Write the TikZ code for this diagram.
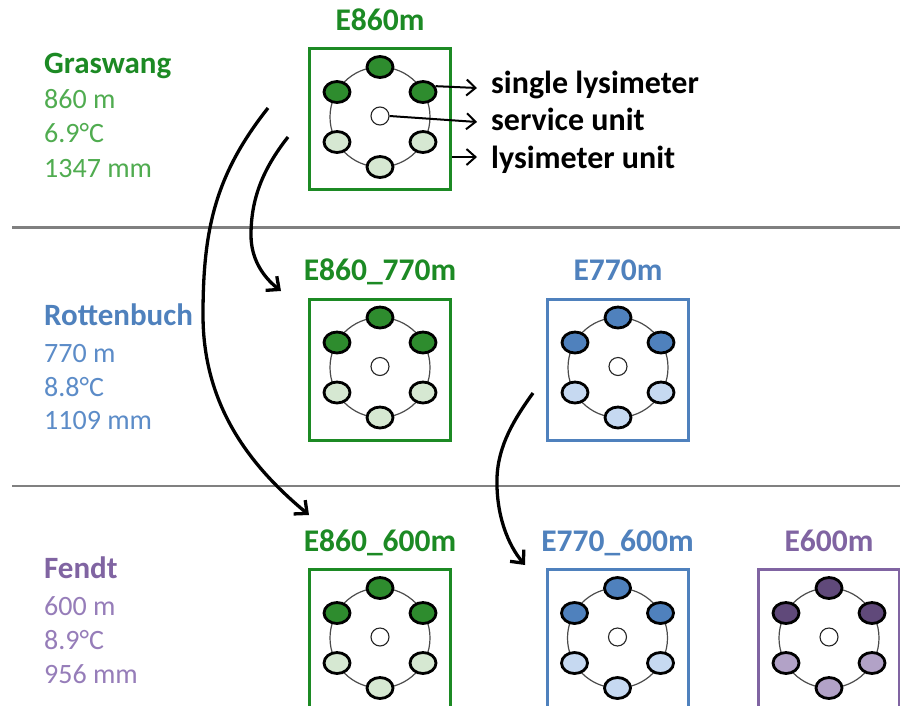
\documentclass[tikz,border=0pt]{standalone}
\usepackage{fontspec}
\setmainfont{Carlito}
\usetikzlibrary{shapes.geometric,arrows.meta,calc}
\definecolor{gframe}{RGB}{28,138,36}
\definecolor{gdata}{RGB}{80,172,80}
\definecolor{gdark}{RGB}{46,140,46}
\definecolor{glight}{RGB}{214,232,210}
\definecolor{bframe}{RGB}{79,129,189}
\definecolor{bdata}{RGB}{92,140,200}
\definecolor{bdark}{RGB}{79,129,189}
\definecolor{blight}{RGB}{198,217,241}
\definecolor{pframe}{RGB}{128,100,162}
\definecolor{pdata}{RGB}{150,125,185}
\definecolor{pdark}{RGB}{96,73,122}
\definecolor{plight}{RGB}{178,162,199}
\tikzset{
  unitframe/.style={rectangle, line width=3pt, minimum width=141pt, minimum height=141pt, inner sep=0pt},
  lys/.style={ellipse, draw=black, line width=2.8pt, minimum width=26pt, minimum height=21pt, inner sep=0pt},
  svc/.style={circle, draw=black!85, line width=1.1pt, fill=white, minimum size=18pt, inner sep=0pt},
  ringline/.style={draw=black!70, line width=1.2pt},
  boxtitle/.style={font=\bfseries\fontsize{31.5}{36}\selectfont, anchor=base, inner sep=0pt},
  sitename/.style={font=\bfseries\fontsize{31}{36}\selectfont, anchor=base west, inner sep=0pt},
  sitedata/.style={font=\fontsize{28}{32}\selectfont, anchor=base west, inner sep=0pt},
  legendtext/.style={font=\bfseries\fontsize{32}{36}\selectfont, anchor=base west, inner sep=0pt},
  bigarrow/.style={line width=3.3pt, -{Straight Barb[length=10pt,width=18pt]}},
  legarrow/.style={line width=2pt, -{Straight Barb[length=9pt,width=16pt]}},
  divider/.style={draw=black!50, line width=2.2pt}
}
\newcommand\lysunit[7]{%
  \node[unitframe, draw=#4] (#1) at (#2,#3) {};
  \node[boxtitle, text=#4] (#1-title) at ($(#1.north)+(0,-17)$) {#7};
  \coordinate (#1-c) at ($(#1.center)+(0,-2)$);
  \draw[ringline] (#1-c) circle[radius=50];
  \node[lys, fill=#5] (#1-t) at ($(#1-c)+(0,-50)$) {};
  \node[lys, fill=#5] (#1-ul) at ($(#1-c)+(-43,-25)$) {};
  \node[lys, fill=#5] (#1-ur) at ($(#1-c)+(43,-25)$) {};
  \node[lys, fill=#6] (#1-ll) at ($(#1-c)+(-43,25)$) {};
  \node[lys, fill=#6] (#1-lr) at ($(#1-c)+(43,25)$) {};
  \node[lys, fill=#6] (#1-b) at ($(#1-c)+(0,50)$) {};
  \node[svc] (#1-s) at ($(#1-c)+(0,-1)$) {};
}
\begin{document}
\begin{tikzpicture}[x=1pt,y=-1pt]
\useasboundingbox (0,0) rectangle (900,705);
\clip (0,0) rectangle (900,705);
\fill[white] (0,0) rectangle (900,705);
% dividers
\draw[divider] (12,227.5) -- (900,227.5);
\draw[divider] (12,486) -- (900,486);
% site labels
\node[sitename, text=gframe] (gras) at (44,73) {Graswang};
\node[sitedata, text=gdata] (gras1) at (44,108) {860 m};
\node[sitedata, text=gdata] (gras2) at (44,142) {6.9°C};
\node[sitedata, text=gdata] (gras3) at (44,177) {1347 mm};
\node[sitename, text=bframe] (rott) at (44,325) {Rottenbuch};
\node[sitedata, text=bdata] (rott1) at (44,362) {770 m};
\node[sitedata, text=bdata] (rott2) at (44,396) {8.8°C};
\node[sitedata, text=bdata] (rott3) at (44,429) {1109 mm};
\node[sitename, text=pframe] (fend) at (44,578) {Fendt};
\node[sitedata, text=pdata] (fend1) at (44,615) {600 m};
\node[sitedata, text=pdata] (fend2) at (44,649) {8.9°C};
\node[sitedata, text=pdata] (fend3) at (44,683) {956 mm};
% units
\lysunit{E860}{380}{119}{gframe}{gdark}{glight}{E860m}
\lysunit{E860-770}{380}{369.5}{gframe}{gdark}{glight}{E860\_770m}
\lysunit{E770}{618}{369.5}{bframe}{bdark}{blight}{E770m}
\lysunit{E860-600}{380}{640}{gframe}{gdark}{glight}{E860\_600m}
\lysunit{E770-600}{617.5}{640}{bframe}{bdark}{blight}{E770\_600m}
\lysunit{E600}{829}{640}{pframe}{pdark}{plight}{E600m}
% legend
\node[legendtext] (lab1) at (491,93) {single lysimeter};
\node[legendtext] (lab2) at (491,130) {service unit};
\node[legendtext] (lab3) at (491,168) {lysimeter unit};
\coordinate (p1) at (477,88);
\coordinate (p2) at (477,122);
\coordinate (p3) at (477,157);
\draw[legarrow] (E860-ur.25) -- (p1);
\draw[legarrow] (E860-s.east) -- (p2);
\draw[legarrow] (E860.east |- p3) -- (p3);
% transfer arrows
\coordinate (a1s) at (268,108);
\coordinate (a1m) at (203,315);
\coordinate (a1e) at (309,515);
\draw[bigarrow] (a1s) .. controls (215,175) and (203,230) .. (a1m)
  .. controls (203,410) and (255,470) .. (a1e);
\coordinate (a2s) at (288,137);
\coordinate (a2m) at (251,235);
\coordinate (a2e) at (281,291);
\draw[bigarrow] (a2s) .. controls (262,170) and (251,200) .. (a2m)
  .. controls (251,258) and (262,276) .. (a2e);
\coordinate (a3s) at (533,393);
\coordinate (a3m) at (497,478);
\coordinate (a3e) at (525,565);
\draw[bigarrow] (a3s) .. controls (515,418) and (498,445) .. (a3m)
  .. controls (496,515) and (508,545) .. (a3e);
\end{tikzpicture}
\end{document}
